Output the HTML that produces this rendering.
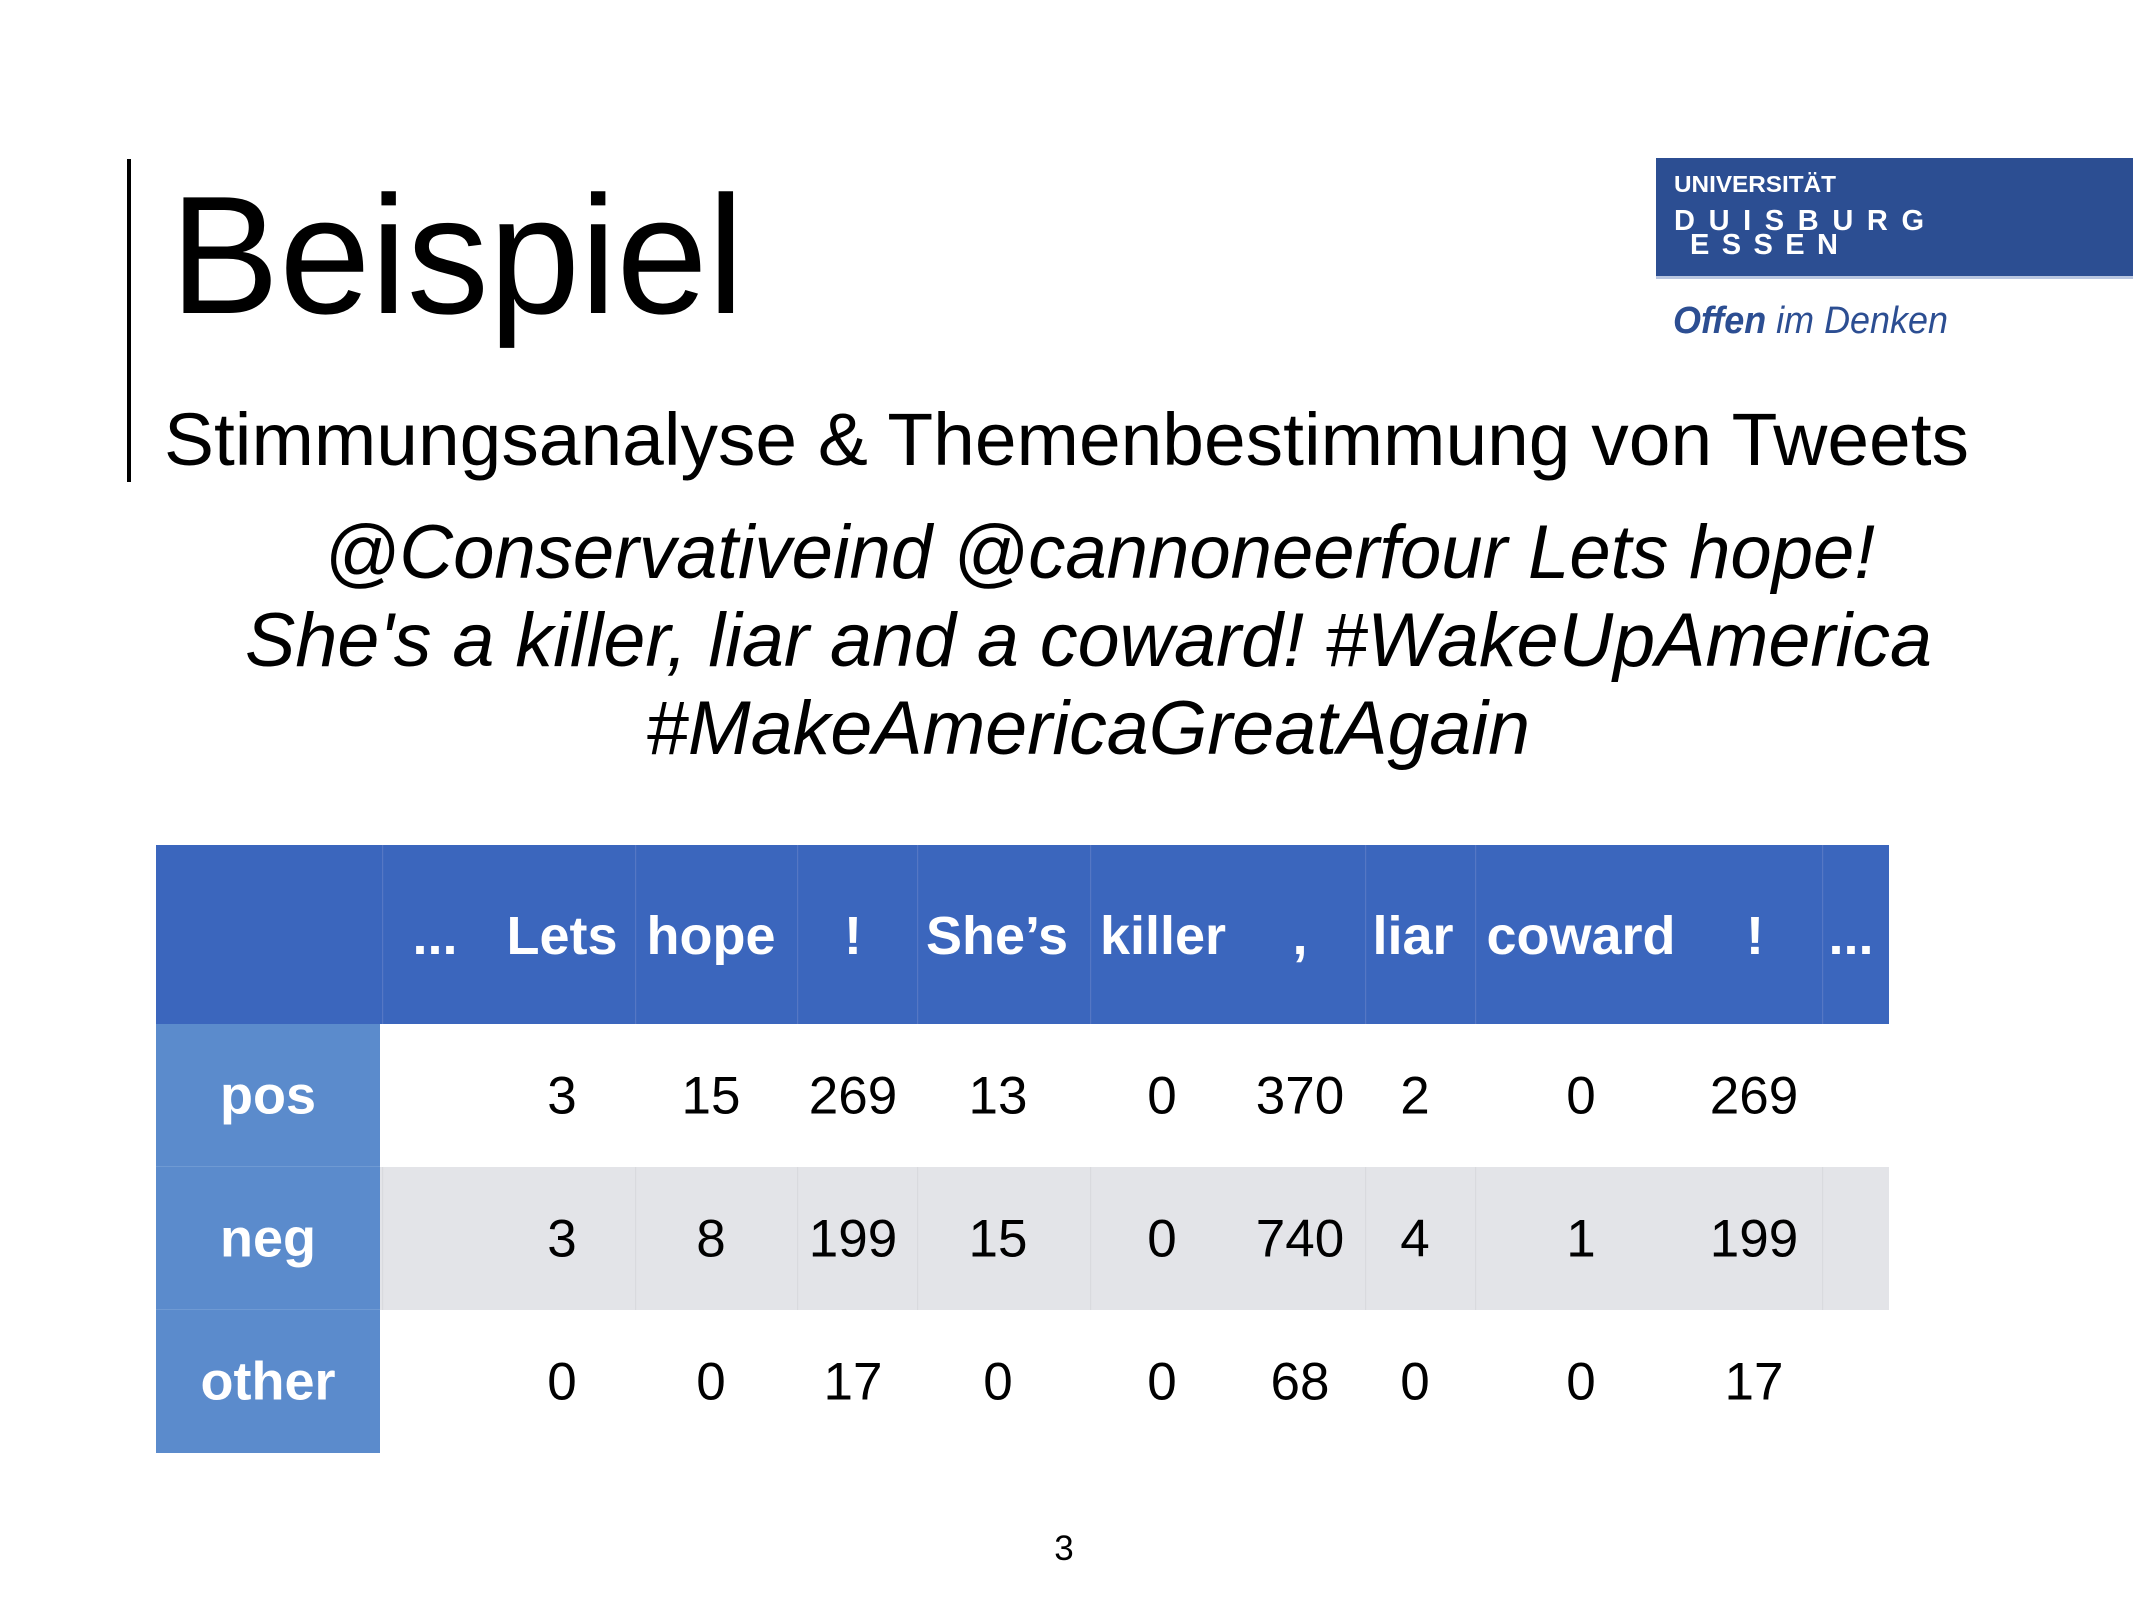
<!DOCTYPE html>
<html><head><meta charset="utf-8"><style>
html,body{margin:0;padding:0;background:#fff;}
svg{display:block;font-family:"Liberation Sans",Arial,sans-serif;}
</style></head><body>
<svg id="s" width="2133" height="1600" viewBox="0 0 2133 1600" xmlns="http://www.w3.org/2000/svg">
<rect x="127" y="159" width="4" height="323" fill="#000"/>
<text x="170" y="313" font-size="168" textLength="574" lengthAdjust="spacingAndGlyphs">Beispiel</text>
<text x="164" y="465" font-size="74" textLength="1805" lengthAdjust="spacingAndGlyphs">Stimmungsanalyse &amp; Themenbestimmung von Tweets</text>
<g font-style="italic" font-size="76">
<text x="324" y="578" textLength="1551" lengthAdjust="spacingAndGlyphs">@Conservativeind @cannoneerfour Lets hope!</text>
<text x="245" y="666" textLength="1687" lengthAdjust="spacingAndGlyphs">She's a killer, liar and a coward! #WakeUpAmerica</text>
<text x="646" y="754" textLength="884" lengthAdjust="spacingAndGlyphs">#MakeAmericaGreatAgain</text>
</g>
<g>
<rect x="1656" y="158" width="477" height="118" fill="#2c4e92"/>
<rect x="1656" y="276" width="477" height="3" fill="#b9c6e0"/>
<text x="1674" y="192" font-size="23" font-weight="bold" fill="#fff" textLength="162" lengthAdjust="spacingAndGlyphs">UNIVERSITÄT</text>
<text x="1674" y="230" font-size="29" font-weight="bold" fill="#fff" textLength="250" lengthAdjust="spacing">D U I S B U R G</text>
<text x="1690" y="254" font-size="29" font-weight="bold" fill="#fff" textLength="148" lengthAdjust="spacing">E S S E N</text>
<text x="1673" y="333" font-size="38" font-style="italic" fill="#2c4e92" textLength="275" lengthAdjust="spacingAndGlyphs"><tspan font-weight="bold">Offen</tspan> im Denken</text>
</g>
<g id="tbl"></g>
<text x="1064" y="1560" font-size="35" text-anchor="middle">3</text>
</svg>
<script>
const headers = ["...","Lets","hope","!","She’s","killer",",","liar","coward","!","..."];
const rowLabels = ["pos","neg","other"];
const posValues = [3,15,269,13,0,370,2,0,269];
const negValues = [3,8,199,15,0,740,4,1,199];
const otherValues = [0,0,17,0,0,68,0,0,17];
const headerX = [435,562,711,853,997,1163,1300,1413,1581,1755,1851];
const valueX = [562,711,853,998,1162,1300,1415,1581,1754];
const colLines = [382,635,797,917,1090,1365,1475,1822];
const NS="http://www.w3.org/2000/svg";
const tblG=document.getElementById('tbl');
function mk(tag,attrs,txt){const e=document.createElementNS(NS,tag);for(const k in attrs)e.setAttribute(k,attrs[k]);if(txt!==undefined)e.textContent=txt;tblG.appendChild(e);return e;}
const tableLeft=156,tableRight=1889,tableTop=845,headBottom=1024,rowH=143;
let el=mk('rect',{x:tableLeft,y:tableTop,width:tableRight-tableLeft,height:headBottom-tableTop,fill:'#3b66bd'});


el=mk('rect',{x:380,y:headBottom+rowH,width:tableRight-380,height:rowH,fill:'#e3e4e8'});


el=mk('rect',{x:tableLeft,y:headBottom,width:224,height:rowH*3,fill:'#5b8bcc'});


for(let i=0;i<2;i++){el=mk('rect',{x:tableLeft,y:headBottom+rowH*(i+1)-1,width:224,height:1,fill:'#6f9ad3'});

}
colLines.forEach(x=>{el=mk('rect',{x:x,y:tableTop,width:1.2,height:headBottom-tableTop,fill:'#5577c4'});


el=mk('rect',{x:x,y:headBottom+rowH,width:1.2,height:rowH,fill:'#d9dade'});

});
headers.forEach((h,i)=>{el=mk('text',{x:headerX[i],y:954,'font-size':54,'font-weight':'bold',fill:'#fff','text-anchor':'middle'},h);

});
const rows=[posValues,negValues,otherValues];
rowLabels.forEach((r,i)=>{const cy=headBottom+rowH*i+rowH/2;
el=mk('text',{x:268,y:cy+18,'font-size':54,'font-weight':'bold',fill:'#fff','text-anchor':'middle'},r);


rows[i].forEach((v,j)=>{el=mk('text',{x:valueX[j],y:cy+18,'font-size':53,fill:'#000','text-anchor':'middle'},String(v));

});});
</script>
</body></html>
